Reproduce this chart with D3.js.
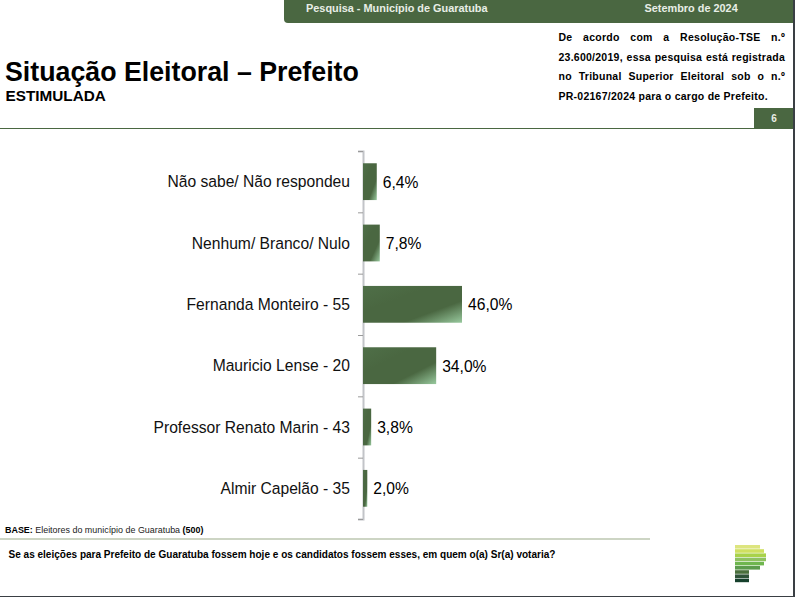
<!DOCTYPE html>
<html>
<head>
<meta charset="utf-8">
<script src="https://cdn.jsdelivr.net/npm/d3@7"></script>
<style>
  html, body { margin: 0; padding: 0; background: #fff; overflow: hidden; }
  svg { display: block; }
  text { font-family: "Liberation Sans", Arial, sans-serif; fill: #000; }
</style>
</head>
<body>
<div id="chart"></div>
<script>
const categories = ["Não sabe/ Não respondeu", "Nenhum/ Branco/ Nulo", "Fernanda Monteiro - 55",
    "Mauricio Lense - 20", "Professor Renato Marin - 43", "Almir Capelão - 35"];
const values = [6.4, 7.8, 46.0, 34.0, 3.8, 2.0];
const noteLines = ["De acordo com a Resolução-TSE n.º", "23.600/2019, essa pesquisa está registrada",
    "no Tribunal Superior Eleitoral sob o n.º"];
const noteLastLine = "PR-02167/2024 para o cargo de Prefeito.";
const logoColors = ["#dde57f", "#cfe060", "#a9d24a", "#8fc261", "#6fb64f", "#5c9c4d", "#4a6f3c", "#2f5238", "#16402c"];
const logoWidths = [25, 29, 31, 31, 29, 25, 14, 14, 14];

const green = "#4a6741";
const svg = d3.select("#chart")
    .append("svg")
    .attr("width", 795)
    .attr("height", 597);

const defs = svg.append("defs");
const grad = defs.append("linearGradient")
    .attr("id", "barFill")
    .attr("x1", 0).attr("y1", 0).attr("x2", 1).attr("y2", 1);
grad.append("stop").attr("offset", "0%").attr("stop-color", "#4f6f48");
grad.append("stop").attr("offset", "35%").attr("stop-color", green);
grad.append("stop").attr("offset", "70%").attr("stop-color", green);
grad.append("stop").attr("offset", "100%").attr("stop-color", "#98c99e");

// header
svg.append("path")
    .attr("d", "M284,0 V19 Q284,23 288,23 H795 V0 Z")
    .attr("fill", green);
svg.append("text").attr("x", 306).attr("y", 12).attr("font-size", 10.9)
    .attr("font-weight", "bold").style("fill", "#e8eee6")
    .text("Pesquisa - Município de Guaratuba");
svg.append("text").attr("x", 644.5).attr("y", 12).attr("font-size", 10.9)
    .attr("font-weight", "bold").style("fill", "#e8eee6")
    .text("Setembro de 2024");

svg.append("text").attr("x", 5).attr("y", 80.5).attr("font-size", 26.75)
    .attr("font-weight", "bold").text("Situação Eleitoral – Prefeito");
svg.append("text").attr("x", 5.5).attr("y", 101).attr("font-size", 15.3)
    .attr("font-weight", "bold").text("ESTIMULADA");

// justified note on the right
noteLines.forEach(function(line, i) {
    var t = svg.append("text")
        .attr("x", 558.5)
        .attr("y", 41 + i * 19.7)
        .attr("font-size", 10.5)
        .attr("letter-spacing", 0.25)
        .attr("font-weight", "bold")
        .text(line);
    var extra = (226.5 - t.node().getComputedTextLength()) / (line.split(" ").length - 1);
    t.attr("word-spacing", extra);
});
svg.append("text").attr("x", 558.5).attr("y", 100).attr("font-size", 10.5)
    .attr("letter-spacing", 0.25)
    .attr("font-weight", "bold").text(noteLastLine);

svg.append("line").attr("x1", 0).attr("x2", 795).attr("y1", 128.5).attr("y2", 128.5)
    .attr("stroke", green).attr("stroke-width", 1.2);
svg.append("rect").attr("x", 754).attr("y", 108).attr("width", 41).attr("height", 21).attr("fill", green);
svg.append("text").attr("x", 774).attr("y", 122).attr("text-anchor", "middle")
    .attr("font-size", 10).attr("font-weight", "bold").style("fill", "#e8eee6").text("6");

// chart
const x = d3.scaleLinear().domain([0, 46]).range([363, 462]);
const y = d3.scaleBand().domain(categories).range([151, 519]).paddingInner(0.4).paddingOuter(0.2);
const edges = d3.scaleLinear().domain([0, categories.length]).range([151, 519]);

svg.append("g")
    .attr("transform", "translate(363,0)")
    .call(d3.axisLeft(edges).ticks(categories.length).tickFormat("").tickSize(5).tickSizeOuter(5))
    .call(g => g.selectAll("path").attr("stroke", "#c2c4c8").attr("stroke-width", 2))
    .call(g => g.selectAll("line").attr("stroke", "#9a9a9a").attr("stroke-width", 1));

svg.append("g")
    .attr("transform", "translate(350,0.7)")
    .call(d3.axisLeft(y).tickSize(0).tickPadding(0))
    .call(g => g.select(".domain").remove())
    .call(g => g.selectAll("text")
        .attr("font-size", 15.65)
        .style("font-family", '"Liberation Sans", Arial, sans-serif')
        .style("fill", "#111"));

svg.selectAll(".bar")
    .data(values)
    .enter()
    .append("rect")
    .attr("class", "bar")
    .attr("x", x(0))
    .attr("y", (d, i) => y(categories[i]))
    .attr("width", d => x(d) - x(0))
    .attr("height", y.bandwidth())
    .attr("fill", "url(#barFill)");

svg.selectAll(".value")
    .data(values)
    .enter()
    .append("text")
    .attr("class", "value")
    .attr("x", d => x(d) + 6)
    .attr("y", (d, i) => y(categories[i]) + y.bandwidth() / 2 + 0.7)
    .attr("dy", "0.34em")
    .attr("font-size", 15.65)
    .text(d => d.toFixed(1).replace(".", ",") + "%");

// footer
const base = svg.append("text").attr("x", 5).attr("y", 533).attr("font-size", 8.93);
base.append("tspan").attr("font-weight", "bold").text("BASE:");
base.append("tspan").style("fill", "#222").text(" Eleitores do município de Guaratuba ");
base.append("tspan").attr("font-weight", "bold").text("(500)");

svg.append("line").attr("x1", 0).attr("x2", 650).attr("y1", 539).attr("y2", 539)
    .attr("stroke", "#9bab8a").attr("stroke-width", 1.2);
svg.append("text").attr("x", 8.5).attr("y", 558).attr("font-size", 10.04)
    .attr("font-weight", "bold")
    .text("Se as eleições para Prefeito de Guaratuba fossem hoje e os candidatos fossem esses, em quem o(a) Sr(a) votaria?");

// logo
svg.selectAll(".logo")
    .data(logoColors)
    .enter()
    .append("rect")
    .attr("class", "logo")
    .attr("x", 735)
    .attr("y", (d, i) => 545 + i * 4.2)
    .attr("width", (d, i) => logoWidths[i])
    .attr("height", 3.6)
    .attr("fill", d => d);

// window edge
svg.append("rect").attr("x", 793).attr("y", 0).attr("width", 2).attr("height", 597).attr("fill", "#3a3f44");
svg.append("rect").attr("x", 0).attr("y", 596).attr("width", 795).attr("height", 1).attr("fill", "#3a3f44");
</script>
</body>
</html>
